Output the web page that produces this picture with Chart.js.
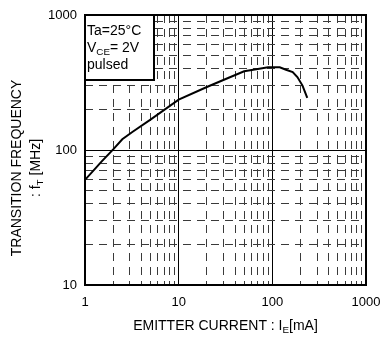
<!DOCTYPE html>
<html>
<head>
<meta charset="utf-8">
<script src="https://cdn.jsdelivr.net/npm/chart.js@4.4.0/dist/chart.umd.min.js"></script>
<style>
  html, body { margin: 0; padding: 0; background: #fff; }
  #grafica { width: 380px; height: 340px; }
</style>
</head>
<body>
<div id="grafica"><canvas id="lienzo"></canvas></div>
<script>
// Corriente de emisor IE [mA]
const corrienteEmisor = [1, 1.5, 2, 2.5, 3.2, 5, 10, 20, 30, 50, 70, 90, 120, 140, 165, 185, 210, 236];
// Frecuencia de transicion fT [MHz]
const frecuencia = [60, 82, 101, 120, 136, 168, 236, 293, 330, 383, 398, 410, 410, 393, 378, 347, 300, 243];
// Etiquetas de los ejes (decadas)
const ticksX = [1, 10, 100, 1000];
const ticksY = [10, 100, 1000];
// Texto del recuadro (_{..} = subindice)
const condiciones = ['Ta=25\u00B0C', 'V_{CE}= 2V', 'pulsed'];
const tituloX = 'EMITTER CURRENT : I_{E}[mA]';
const tituloY = ['TRANSITION FREQUENCY', ': f_{T} [MHz]'];

const FUENTE = '"Liberation Sans", Arial, sans-serif';

// ticks log: 1..9 por cada decada
const ticksLog = (min, max) => {
    const t = [];
    for (let d = min; d < max; d *= 10) {
        for (let k = 1; k < 10; k++) t.push({ value: d * k });
    }
    t.push({ value: max });
    return t;
};

// dibuja texto con subindices
const partes = (texto) => texto.split(/(_\{[^}]*\})/).filter(p => p).map(p =>
    p.startsWith('_{') ? { t: p.slice(2, -1), sub: true } : { t: p, sub: false });

const anchoTexto = (ctx, texto, tam) => partes(texto).reduce((w, p) => {
    ctx.font = (p.sub ? tam * 0.7 : tam) + 'px ' + FUENTE;
    return w + ctx.measureText(p.t).width;
}, 0);

const textoRico = (ctx, texto, x, y, tam, centrado) => {
    let px = centrado ? x - anchoTexto(ctx, texto, tam) / 2 : x;
    ctx.textBaseline = 'alphabetic';
    ctx.textAlign = 'left';
    partes(texto).forEach(p => {
        const s = p.sub ? tam * 0.7 : tam;
        ctx.font = s + 'px ' + FUENTE;
        ctx.fillText(p.t, px, p.sub ? y + tam * 0.22 : y);
        px += ctx.measureText(p.t).width;
    });
};

const marcoYTextos = {
    id: 'marcoYTextos',
    afterDraw(chart) {
        const { ctx, chartArea: a } = chart;
        ctx.save();
        ctx.fillStyle = '#000';
        ctx.strokeStyle = '#000';

        // marco del area
        ctx.lineWidth = 2;
        ctx.strokeRect(a.left, a.top, a.right - a.left, a.bottom - a.top);

        // recuadro de condiciones
        ctx.fillStyle = '#fff';
        ctx.fillRect(a.left, a.top, 69, 65);
        ctx.strokeRect(a.left, a.top, 69, 65);
        ctx.fillStyle = '#000';
        condiciones.forEach((c, i) => textoRico(ctx, c, a.left + 2, a.top + 20 + i * 17, 14, false));

        // titulos
        const cx = (a.left + a.right) / 2;
        textoRico(ctx, tituloX, cx, 330, 14, true);

        const cy = (a.top + a.bottom) / 2 + 18;
        ctx.translate(0, cy);
        ctx.rotate(-Math.PI / 2);
        textoRico(ctx, tituloY[0], 0, 21, 14, true);
        textoRico(ctx, tituloY[1], 0, 40, 14, true);
        ctx.restore();
    }
};

const rejilla = (mayores) => ({
    drawTicks: false,
    color: (c) => mayores.includes(c.tick && c.tick.value) ? '#000' : '#3a3a3a',
    lineWidth: 1
});
const bordeRejilla = (mayores) => ({
    display: false,
    dash: (c) => mayores.includes(c.tick && c.tick.value) ? [] : [8, 6]
});

new Chart(document.getElementById('lienzo').getContext('2d'), {
    type: 'line',
    data: {
        datasets: [{
            data: corrienteEmisor.map((x, i) => ({ x: x, y: frecuencia[i] })),
            borderColor: '#000',
            borderWidth: 2,
            pointRadius: 0,
            tension: 0,
            fill: false
        }]
    },
    options: {
        responsive: true,
        maintainAspectRatio: false,
        animation: false,
        layout: { padding: { top: 15, right: 14, left: 0, bottom: 0 } },
        plugins: { legend: { display: false }, tooltip: { enabled: false } },
        scales: {
            x: {
                type: 'logarithmic',
                min: 1,
                max: 1000,
                afterBuildTicks: (s) => { s.ticks = ticksLog(1, 1000); },
                afterFit: (s) => { s.height = 55; s.paddingLeft = 0; s.paddingRight = 0; },
                grid: rejilla(ticksX),
                border: bordeRejilla(ticksX),
                ticks: {
                    autoSkip: false,
                    maxRotation: 0,
                    padding: 10,
                    color: '#000',
                    font: { family: FUENTE, size: 13 },
                    callback: (v) => ticksX.includes(v) ? String(v) : ''
                }
            },
            y: {
                type: 'logarithmic',
                min: 10,
                max: 1000,
                afterBuildTicks: (s) => { s.ticks = ticksLog(10, 1000); },
                afterFit: (s) => { s.width = 85; s.paddingTop = 0; s.paddingBottom = 0; },
                grid: rejilla(ticksY),
                border: bordeRejilla(ticksY),
                ticks: {
                    autoSkip: false,
                    padding: 8,
                    color: '#000',
                    font: { family: FUENTE, size: 13 },
                    callback: (v) => ticksY.includes(v) ? String(v) : ''
                }
            }
        }
    },
    plugins: [marcoYTextos]
});
</script>
</body>
</html>
